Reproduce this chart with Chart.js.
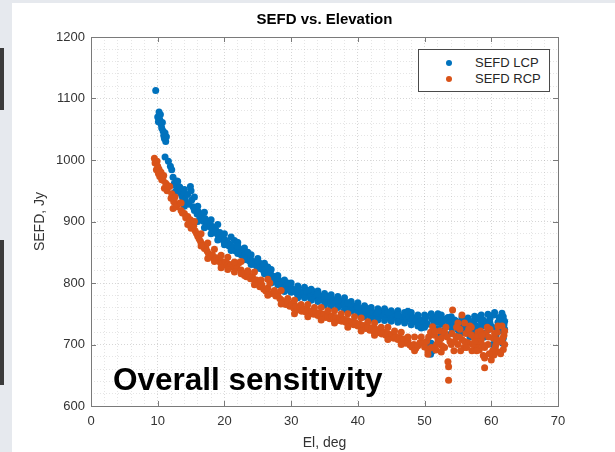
<!DOCTYPE html>
<html>
<head>
<meta charset="utf-8">
<script src="https://cdn.jsdelivr.net/npm/chart.js@4/dist/chart.umd.min.js"></script>
<style>
  html, body { margin: 0; padding: 0; }
  body { width: 615px; height: 452px; background: #e6e9ee; position: relative; overflow: hidden; font-family: "Liberation Sans", Arial, sans-serif; }
  #sheet { position: absolute; left: 12px; top: 3px; right: 0; bottom: 0; background: #fff; }
  .bar { position: absolute; left: 0; width: 4px; background: #3a3a3a; }
  #wrap { position: absolute; left: 0; top: 0; width: 615px; height: 452px; }
  #legend { position: absolute; left: 418px; top: 49px; width: 130px; height: 41px; border: 1px solid #4a4a4a; background: #fff; font-size: 13px; color: #262626; }
  .item { position: absolute; left: 0; height: 14px; line-height: 14px; }
  .dot { position: absolute; left: 27px; top: 4px; width: 6px; height: 6px; border-radius: 50%; }
  .lbl { position: absolute; left: 56px; top: 0; white-space: nowrap; }
  #note { position: absolute; left: 113px; top: 361px; font-size: 31.5px; font-weight: bold; color: #000; white-space: nowrap; line-height: 36px; }
</style>
</head>
<body>
<div class="bar" style="top:48px;height:62px"></div>
<div class="bar" style="top:240px;height:145px"></div>
<div id="sheet"></div>
<div id="wrap"><canvas id="sefdChart" width="615" height="452"></canvas></div>
<div id="legend">
  <div class="item" style="top:6px"><span class="dot" style="background:#0072BD"></span><span class="lbl">SEFD LCP</span></div>
  <div class="item" style="top:22px"><span class="dot" style="background:#D95319"></span><span class="lbl">SEFD RCP</span></div>
</div>
<div id="note">Overall sensitivity</div>
<script>
// elevation (deg) and SEFD (Jy)
const lcpEl = [
  9.7,10.0,10.1,10.2,10.3,10.4,10.5,10.6,10.7,10.8,
  10.9,11.0,11.1,11.2,11.3,11.1,11.6,11.9,12.1,12.3,
  12.5,12.7,12.9,13.1,13.3,13.5,13.7,13.9,14.1,14.3,
  14.5,14.7,14.9,15.1,15.3,15.5,15.7,15.9,16.1,16.3,
  16.5,16.7,16.9,17.1,17.3,17.5,17.7,17.9,18.1,18.3,
  18.5,18.7,18.9,19.1,19.3,19.5,19.7,19.9,20.1,20.3,
  20.5,20.7,20.9,21.1,21.3,21.5,21.7,21.9,22.1,22.3,
  22.5,22.7,22.9,23.1,23.3,23.5,23.7,23.9,24.1,24.3,
  24.5,24.7,24.9,25.1,25.3,25.5,25.7,25.9,26.1,26.3,
  26.5,26.7,26.9,27.1,27.3,27.5,27.7,27.9,28.1,28.3,
  28.5,28.7,28.9,29.1,29.3,29.5,29.7,29.9,30.1,30.3,
  30.6,30.9,31.2,31.5,31.8,32.1,32.4,32.7,33.0,33.3,
  33.6,33.9,34.2,34.5,34.8,35.1,35.4,35.7,36.0,36.3,
  36.6,36.9,37.2,37.5,37.8,38.1,38.4,38.7,39.0,39.3,
  39.6,39.9,40.2,40.5,40.8,41.1,41.4,41.7,42.0,42.3,
  42.6,42.9,43.2,43.5,43.8,44.1,44.4,44.7,45.0,45.3,
  45.6,45.9,46.2,46.5,46.8,47.1,47.4,47.7,48.0,48.3,
  48.6,48.9,49.2,49.5,49.8,50.1,50.4,50.7,50.9,51.2,
  51.1,51.4,51.7,52.0,52.3,52.6,52.9,53.2,53.5,53.8,
  54.1,54.4,54.7,55.0,55.3,55.6,55.9,56.2,56.5,56.8,
  57.1,57.4,57.7,58.0,58.3,58.6,58.9,59.2,59.5,59.8,
  60.1,60.4,60.7,61.0,61.3,61.6,61.8,61.9,61.7,60.9,
  59.0,60.2,61.5,58.5,57.5,55.2,52.2,51.0,61.8,62.0,
  16.0,18.0,20.0,22.0,24.0,26.0,28.0,30.0,32.0,34.0,
  36.0,38.0,40.0,42.0,44.0,46.0,48.0,50.0,52.0,54.0,
  17.0,19.0,21.0,23.0,25.0,27.0,29.0,31.0,33.0,35.0,
  37.0,39.0,41.0,43.0,45.0,47.0,49.0,14.0,15.5,12.6,
  13.0,15.0,17.0,19.0,21.0,23.0,25.0,27.0,29.0,31.0,
  33.0,35.0,37.0,39.0,41.0,43.0,45.0,47.0,49.0,51.0,
  14.0,16.0,18.0,20.0,22.0,24.0,26.0,28.0,30.0,32.0,
  34.0,36.0,38.0,40.0,42.0,44.0,46.0,48.0,50.0,52.0,
  52.5,53.5,54.5,55.5,56.5,57.5,58.5,59.5,60.5,61.5,
  52.8,54.0,55.8,56.8,57.8,58.8,59.8,60.8,61.2,62.0,
  50.2,49.5,47.5,46.0,44.5,43.0,41.5,40.0,38.5,37.0,
  35.5,34.0,32.5,31.0,29.5,28.0,26.5,25.0,23.5,22.0
];
const lcpSefd = [
  1113,1070,1062,1078,1066,1074,1058,1052,1061,1047,
  1040,1035,1044,1030,1038,1005,998,990,984,972,
  962,958,966,950,956,945,940,947,936,930,
  944,928,957,935,924,918,922,912,916,908,
  910,904,900,905,896,899,892,895,888,891,
  884,886,880,877,882,873,875,868,870,864,
  866,860,862,856,858,869,852,866,851,855,
  846,849,843,847,840,843,836,839,833,835,
  830,833,826,829,832,823,826,819,822,816,
  818,812,815,808,811,805,807,801,804,799,
  802,796,799,793,797,790,794,788,791,786,
  789,783,787,781,785,779,784,778,782,786,
  777,780,774,778,772,776,770,774,769,773,
  767,771,766,770,764,768,762,765,760,763,
  757,761,755,758,752,756,750,754,748,752,
  746,751,745,753,747,750,744,749,743,747,
  750,742,746,740,745,749,741,746,739,744,
  737,742,736,740,734,738,733,699,684,690,
  741,735,745,737,742,733,739,741,730,736,
  727,733,738,724,731,744,729,735,722,738,
  727,733,741,725,745,730,718,736,724,742,
  729,748,715,736,722,751,710,732,702,705,
  712,700,740,738,720,716,712,702,745,725,
  925,903,880,866,846,832,812,800,793,787,
  781,776,768,760,758,755,752,748,750,745,
  890,870,853,838,824,800,786,776,772,764,
  760,754,745,740,738,735,730,952,940,948,
  965,950,915,895,875,857,840,822,805,795,
  790,783,778,770,763,758,755,752,748,750,
  925,900,880,862,848,830,815,797,785,776,
  770,762,757,750,742,739,736,732,728,726,
  748,744,740,738,743,746,748,749,752,730,
  722,718,720,712,730,740,735,726,744,738,
  745,727,754,748,752,754,758,760,768,772,
  778,782,788,790,800,808,826,836,850,860
];
const rcpEl = [
  9.5,9.6,9.8,9.9,10.0,10.1,10.2,10.3,10.5,10.6,
  10.8,10.9,11.0,11.2,11.4,11.6,11.8,12.0,12.1,12.3,
  12.4,12.6,12.8,13.0,13.3,13.5,13.7,14.0,14.2,14.5,
  14.7,14.9,15.0,15.2,15.4,15.6,15.8,16.0,16.2,16.4,
  16.6,16.8,17.0,17.2,17.4,17.6,17.8,18.0,18.2,18.4,
  18.6,18.8,19.0,19.2,19.4,19.6,19.8,20.0,20.2,20.4,
  20.6,20.8,21.0,21.3,21.6,21.9,22.2,22.5,22.8,23.0,
  23.3,23.6,23.9,24.2,24.5,24.8,25.1,25.3,25.6,25.9,
  26.2,26.5,26.8,27.1,27.4,27.7,28.0,28.3,28.6,28.9,
  29.2,29.5,29.8,30.1,30.4,30.7,31.0,31.3,31.6,31.9,
  32.2,32.5,32.8,33.1,33.4,33.7,34.0,34.3,34.6,34.9,
  35.2,35.5,35.8,36.1,36.4,36.7,37.0,37.3,37.6,37.9,
  38.2,38.5,38.8,39.1,39.4,39.7,40.0,40.3,40.6,40.9,
  41.2,41.5,41.8,42.1,42.4,42.7,43.0,43.3,43.6,43.9,
  44.2,44.5,44.8,45.1,45.4,45.7,46.0,46.3,46.6,46.9,
  47.2,47.5,47.8,48.1,48.4,48.7,49.0,49.3,49.7,50.0,
  50.3,50.6,50.9,51.2,51.5,51.7,52.0,52.3,52.6,52.9,
  53.2,53.5,53.6,53.6,53.8,54.2,55.6,54.1,54.4,54.7,
  55.0,55.3,55.6,55.9,56.2,56.5,56.8,57.1,57.4,57.7,
  58.0,58.2,58.5,58.8,59.0,59.2,59.5,59.8,60.0,60.3,
  60.4,60.6,60.9,61.1,61.4,61.6,61.8,61.9,62.0,59.0,
  50.5,51.0,51.8,52.5,53.0,55.0,56.0,57.0,57.8,58.6,
  16.5,18.5,20.5,22.5,24.5,26.5,28.5,30.5,32.5,34.5,
  36.5,38.5,40.5,42.5,44.5,46.5,48.5,17.5,19.5,21.5,
  13.5,15.5,17.5,19.5,21.5,23.5,25.5,27.5,29.5,31.5,
  33.5,35.5,37.5,39.5,41.5,43.5,45.5,47.5,49.5,51.5,
  14.5,16.5,18.5,20.5,22.5,24.5,26.5,28.5,30.5,32.5,
  34.5,36.5,38.5,40.5,42.5,44.5,46.5,48.5,50.5,52.5,
  53.0,54.0,54.8,55.4,56.0,56.6,57.2,57.8,58.4,59.0,
  59.6,60.2,60.8,61.4,62.0,61.0,60.5,59.4,58.0,57.0,
  55.2,56.3,57.5,58.6,59.7,60.7,61.7,54.5,53.4,52.2
];
const rcpSefd = [
  1003,995,984,998,990,978,985,973,980,968,
  967,975,954,962,950,958,957,938,945,921,
  932,940,924,928,930,918,914,913,906,908,
  901,903,889,897,893,885,881,876,872,868,
  864,860,856,858,852,848,845,843,846,840,
  838,841,836,839,833,835,832,830,834,828,
  831,826,829,827,832,825,833,821,816,812,
  810,813,807,810,804,805,799,794,797,790,
  787,792,800,783,786,779,782,775,772,768,
  765,768,762,765,759,762,756,760,754,758,
  753,756,750,754,749,752,747,751,746,749,
  744,747,742,746,741,744,739,743,738,741,
  736,739,734,737,732,735,730,733,728,731,
  726,729,723,727,721,725,719,722,717,720,
  715,718,712,716,710,713,708,711,705,709,
  702,706,699,696,700,694,698,703,702,696,
  705,712,720,729,715,691,708,722,698,715,
  728,672,664,642,705,756,748,718,690,713,
  700,725,708,695,718,703,730,690,712,698,
  720,691,708,682,678,718,700,725,675,710,
  683,695,720,688,705,730,692,715,700,662,
  690,695,700,710,695,735,735,728,712,700,
  880,855,842,835,818,806,788,772,765,760,
  755,750,743,735,728,720,712,840,825,818,
  930,900,865,845,834,820,805,788,775,765,
  760,755,750,745,737,728,722,712,712,722,
  895,860,835,822,815,797,780,766,750,745,
  740,735,728,722,715,708,700,690,684,688,
  720,700,728,690,705,725,700,690,722,695,
  712,690,708,685,722,730,718,728,705,716,
  712,695,705,715,685,700,710,705,712,705
];
const xTicks = [0, 10, 20, 30, 40, 50, 60, 70];
const yTicks = [600, 700, 800, 900, 1000, 1100, 1200];

const toPoints = (xs, ys) => xs.map((x, i) => ({ x: x, y: ys[i] }));

// MATLAB style box with inward ticks
const boxPlugin = {
    id: 'box',
    afterDraw(chart) {
        const { ctx, chartArea: a, scales } = chart;
        ctx.save();
        ctx.strokeStyle = '#7a7a7a';
        ctx.lineWidth = 1;
        ctx.strokeRect(a.left + 0.5, a.top + 0.5, a.right - a.left, a.bottom - a.top);
        ctx.beginPath();
        xTicks.forEach(v => {
            const px = Math.round(scales.x.getPixelForValue(v)) + 0.5;
            ctx.moveTo(px, a.bottom); ctx.lineTo(px, a.bottom - 5);
            ctx.moveTo(px, a.top); ctx.lineTo(px, a.top + 5);
        });
        yTicks.forEach(v => {
            const py = Math.round(scales.y.getPixelForValue(v)) + 0.5;
            ctx.moveTo(a.left, py); ctx.lineTo(a.left + 5, py);
            ctx.moveTo(a.right, py); ctx.lineTo(a.right - 5, py);
        });
        ctx.stroke();
        ctx.restore();
    }
};

const gridColor = (c, step) => (c.tick && c.tick.value % step === 0) ? 'rgba(0,0,0,0.16)' : 'rgba(0,0,0,0.10)';

new Chart(document.getElementById('sefdChart'), {
    type: 'scatter',
    data: {
        datasets: [{
            label: 'SEFD LCP',
            data: toPoints(lcpEl, lcpSefd),
            backgroundColor: '#0072BD',
            borderWidth: 0,
            pointRadius: 3.5,
            order: 1
        }, {
            label: 'SEFD RCP',
            data: toPoints(rcpEl, rcpSefd),
            backgroundColor: '#D95319',
            borderWidth: 0,
            pointRadius: 3.5,
            order: 0
        }]
    },
    options: {
        responsive: false,
        animation: false,
        layout: { padding: { left: 0, right: 57, top: 4, bottom: 0 } },
        plugins: {
            legend: { display: false },
            tooltip: { enabled: false },
            title: {
                display: true,
                text: 'SEFD vs. Elevation',
                fullSize: false,
                color: '#000',
                font: { family: 'Liberation Sans', size: 15, weight: 'bold' },
                padding: { top: 7, bottom: 8 }
            }
        },
        scales: {
            x: {
                type: 'linear',
                min: 0, max: 70,
                afterFit: s => { s.height = 46; },
                border: { display: false, dash: [1, 2] },
                grid: { color: c => gridColor(c, 10), drawTicks: false },
                ticks: {
                    stepSize: 2, autoSkip: false, maxRotation: 0, padding: 8,
                    color: '#333', font: { family: 'Liberation Sans', size: 13 },
                    callback: v => (v % 10 === 0 ? v : '')
                },
                title: {
                    display: true, text: 'El, deg', color: '#333',
                    font: { family: 'Liberation Sans', size: 14 },
                    padding: { top: 4, bottom: 0 }
                }
            },
            y: {
                min: 600, max: 1200,
                afterFit: s => { s.width = 91; },
                border: { display: false, dash: [1, 2] },
                grid: { color: c => gridColor(c, 100), drawTicks: false },
                ticks: {
                    stepSize: 20, autoSkip: false, padding: 6,
                    color: '#333', font: { family: 'Liberation Sans', size: 13 },
                    callback: v => (v % 100 === 0 ? v : '')
                },
                title: {
                    display: true, text: 'SEFD, Jy', color: '#333',
                    font: { family: 'Liberation Sans', size: 14 },
                    padding: { top: 32, bottom: 0 }
                }
            }
        }
    },
    plugins: [boxPlugin]
});
</script>
</body>
</html>
